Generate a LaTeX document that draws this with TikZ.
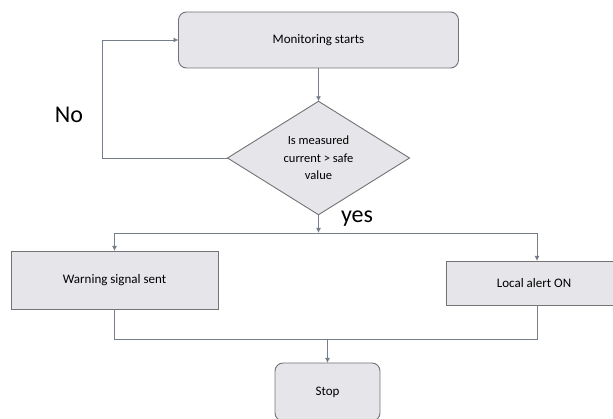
\documentclass[tikz,border=0pt]{standalone}
\usepackage{fontspec}
\setmainfont{Carlito}
\usetikzlibrary{shapes.geometric,arrows.meta}
\definecolor{boxfill}{RGB}{230,229,233}
\definecolor{boxline}{RGB}{115,115,118}
\definecolor{conn}{RGB}{118,126,138}
\begin{document}
\begin{tikzpicture}[x=1pt,y=-1pt,
  every node/.style={inner sep=0pt,outer sep=0pt},
  boxbase/.style={draw=boxline,fill=boxfill,line width=0.9pt,font=\fontsize{13}{15}\selectfont,align=center},
  roundbox/.style={boxbase,rectangle,rounded corners=8pt},
  plainbox/.style={boxbase,rectangle},
  decbox/.style={boxbase,diamond,font=\fontsize{12.5}{17.5}\selectfont},
  conline/.style={draw=conn,line width=0.9pt},
  arr/.style={conline,-{Latex[length=5pt,width=5pt]}},
  biglabel/.style={font=\fontsize{24}{28}\selectfont,anchor=base}]
\useasboundingbox (0,0) rectangle (613,419);
\clip (0,0) rectangle (613,419);
\node[roundbox,minimum width=280pt,minimum height=56pt] (start) at (318.5,40) {Monitoring starts};
\node[decbox,minimum width=182pt,minimum height=110pt] (dec) at (318.5,158) {Is measured\\current > safe\\value};
\node[plainbox,minimum width=207pt,minimum height=58pt] (warn) at (114.5,280) {Warning signal sent};
\node[plainbox,minimum width=176pt,minimum height=44pt] (alert) at (534,283) {Local alert ON};
\node[roundbox,minimum width=105pt,minimum height=58pt] (stop) at (327.5,392) {Stop};
\node[biglabel] (no) at (69,123) {No};
\node[biglabel] (yes) at (357,223) {yes};
\coordinate (nocorner1) at (102,158);
\coordinate (nocorner2) at (102,40);
\coordinate (split) at (318.5,233);
\coordinate (splitL) at (114.5,233);
\coordinate (splitR) at (537,233);
\coordinate (joinL) at (114.5,339);
\coordinate (joinR) at (537,339);
\coordinate (join) at (327.5,339);
\draw[arr] (start.south) -- (dec.north);
\draw[arr] (dec.west) -- (nocorner1) -- (nocorner2) -- (start.west);
\draw[arr] (dec.south) -- (split);
\draw[conline] (splitL) -- (splitR);
\draw[arr] (splitL) -- (warn.north);
\draw[arr] (splitR) -- (splitR |- alert.north);
\draw[conline] (warn.south) -- (joinL) -- (joinR) -- (joinR |- alert.south);
\draw[arr] (join) -- (stop.north);
\end{tikzpicture}
\end{document}
